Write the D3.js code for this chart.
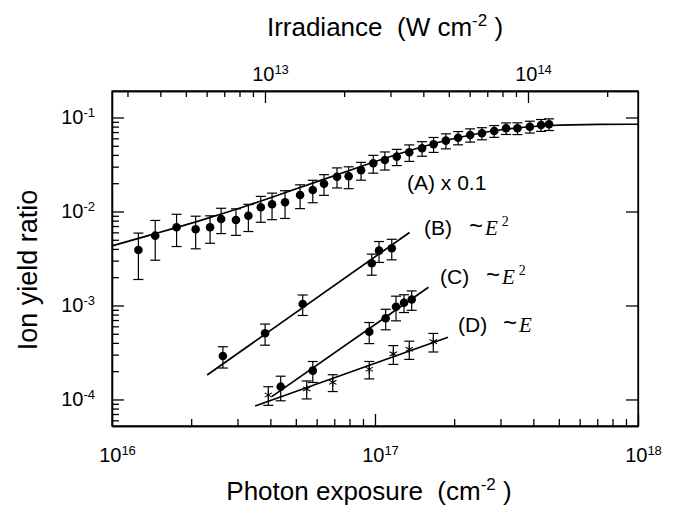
<!DOCTYPE html>
<html lang="en">
<head>
<meta charset="utf-8">
<title>Ion yield ratio vs photon exposure</title>
<script src="https://cdn.jsdelivr.net/npm/d3@7/dist/d3.min.js"></script>
<style>
  body { margin: 0; background: #fff; }
  svg { font-family: "Liberation Sans", Arial, sans-serif; }
  .axis path, .axis line { stroke: #000; stroke-width: 1.3; }
  .axis text { font-size: 20px; fill: #000; }
  .title { font-size: 26px; }
  .tag { font-size: 21px; }
  .law { font-family: "Liberation Serif", "Times New Roman", serif; font-style: italic; font-size: 21px; }
</style>
</head>
<body>
<div id="chart"></div>
<script>

// ---- data ----
// (A) x 0.1
var aExposure = [1.26e16, 1.46e16, 1.76e16, 2.08e16, 2.36e16, 2.60e16, 2.96e16, 3.30e16, 3.68e16, 4.06e16,
                 4.55e16, 5.19e16, 5.80e16, 6.40e16, 7.17e16, 7.94e16, 8.85e16, 9.85e16, 1.09e17, 1.21e17,
                 1.35e17, 1.51e17, 1.67e17, 1.86e17, 2.07e17, 2.30e17, 2.55e17, 2.84e17, 3.15e17, 3.48e17,
                 3.88e17, 4.28e17, 4.59e17];
var aRatio = [3.89e-3, 5.53e-3, 6.79e-3, 6.46e-3, 6.79e-3, 8.32e-3, 8.12e-3, 9.02e-3, 1.108e-2, 1.193e-2,
              1.253e-2, 1.497e-2, 1.694e-2, 1.975e-2, 2.345e-2, 2.368e-2, 2.743e-2, 3.256e-2, 3.53e-2, 3.83e-2,
              4.26e-2, 4.70e-2, 5.19e-2, 5.67e-2, 6.10e-2, 6.52e-2, 6.79e-2, 7.18e-2, 7.68e-2, 7.68e-2,
              7.98e-2, 8.32e-2, 8.47e-2];
var aErr = [2.0e-3, 2.5e-3, 2.55e-3, 2.45e-3, 2.2e-3, 2.5e-3, 2.55e-3, 2.9e-3, 3.4e-3, 3.75e-3,
            4.1e-3, 4.25e-3, 4.55e-3, 4.9e-3, 5.65e-3, 6.2e-3, 5.9e-3, 7.0e-3, 7.7e-3, 7.5e-3,
            8.5e-3, 8.3e-3, 9.4e-3, 1.03e-2, 9.8e-3, 1.05e-2, 1.0e-2, 1.03e-2, 1.08e-2, 1.1e-2,
            1.15e-2, 1.2e-2, 1.2e-2];
// fitted saturation curve for (A)
var aFitExposure = [1e16, 1.394e16, 2.16e16, 3.35e16, 5.19e16, 8.04e16, 1.245e17, 1.928e17, 2.99e17, 4.62e17, 7.17e17, 1e18];
var aFitRatio = [4.3e-3, 5.6e-3, 8.0e-3, 1.18e-2, 1.80e-2, 2.75e-2, 4.14e-2, 5.83e-2, 7.36e-2, 8.22e-2, 8.45e-2, 8.48e-2];

// (B) ~E^2
var bExposure = [2.64e16, 3.82e16, 5.31e16, 9.72e16, 1.036e17, 1.158e17];
var bRatio = [2.90e-4, 5.06e-4, 1.038e-3, 2.81e-3, 3.83e-3, 4.06e-3];
var bErr = [7.4e-5, 1.28e-4, 2.55e-4, 7.1e-4, 9.6e-4, 1.0e-3];
var bFitExposure = [2.30e16, 1.353e17];
var bFitRatio = [1.82e-4, 5.98e-3];

// (C) ~E^2
var cExposure = [4.38e16, 5.80e16, 9.51e16, 1.098e17, 1.202e17, 1.289e17, 1.379e17];
var cRatio = [1.368e-4, 2.025e-4, 5.26e-4, 7.31e-4, 9.71e-4, 1.071e-3, 1.158e-3];
var cErr = [4.0e-5, 5.1e-5, 1.33e-4, 1.8e-4, 2.85e-4, 2.3e-4, 2.7e-4];
var cFitExposure = [4.05e16, 1.597e17];
var cFitRatio = [1.071e-4, 1.562e-3];

// (D) ~E
var dExposure = [3.93e16, 5.50e16, 6.91e16, 9.51e16, 1.174e17, 1.35e17, 1.666e17];
var dRatio = [1.116e-4, 1.293e-4, 1.524e-4, 2.096e-4, 3.05e-4, 3.42e-4, 4.12e-4];
var dErr = [2.5e-5, 2.8e-5, 3.1e-5, 4.4e-5, 6.9e-5, 7.5e-5, 9.2e-5];
var dFitExposure = [3.50e16, 1.895e17];
var dFitRatio = [8.53e-5, 4.59e-4];

// axes
var xDomain = [1e16, 1e18];
var yDomain = [5.22e-5, 0.1914];
var topDomain = [2.62e12, 2.62e14];   // irradiance matching the exposure range
var xMajor = [1e16, 1e17, 1e18];
var yMajor = [1e-4, 1e-3, 1e-2, 1e-1];
var topMajor = [1e13, 1e14];

// ---- layout ----
var width = 677, height = 510;
var pL = 112, pR = 638, pT = 91, pB = 426;

var svg = d3.select("#chart").append("svg")
    .attr("width", width)
    .attr("height", height);

var x = d3.scaleLog().domain(xDomain).range([pL, pR]);
var y = d3.scaleLog().domain(yDomain).range([pB, pT]);
var xt = d3.scaleLog().domain(topDomain).range([pL, pR]);

// minor ticks: 2..9 within each decade of the domain
function minors(scale) {
    var d = scale.domain(), out = [];
    for (var e = Math.floor(Math.log10(d[0])); e <= Math.ceil(Math.log10(d[1])); e++) {
        for (var m = 2; m <= 9; m++) {
            var v = m * Math.pow(10, e);
            if (v > d[0] && v < d[1]) out.push(v);
        }
    }
    return out;
}

function powLabel(sel, exps) {
    sel.selectAll(".tick text").each(function(d, i) {
        var t = d3.select(this).text(null);
        t.append("tspan").text("10");
        t.append("tspan").attr("font-size", 13).attr("dy", "-0.55em").text(exps[i]);
    });
}

// bottom
var gb = svg.append("g").attr("class", "axis").attr("transform", "translate(0," + pB + ")");
gb.call(d3.axisBottom(x).tickValues(minors(x)).tickSizeInner(-7).tickSizeOuter(0).tickFormat(""));
var gb2 = svg.append("g").attr("class", "axis").attr("transform", "translate(0," + pB + ")");
gb2.call(d3.axisBottom(x).tickValues(xMajor).tickSizeInner(-12).tickSizeOuter(0).tickPadding(22));
powLabel(gb2, ["16", "17", "18"]);
gb2.selectAll(".tick text").attr("dx", 5);

// top
var gt = svg.append("g").attr("class", "axis").attr("transform", "translate(0," + pT + ")");
gt.call(d3.axisTop(xt).tickValues(minors(xt)).tickSizeInner(-6).tickSizeOuter(0).tickFormat(""));
var gt2 = svg.append("g").attr("class", "axis").attr("transform", "translate(0," + pT + ")");
gt2.call(d3.axisTop(xt).tickValues(topMajor).tickSizeInner(-12).tickSizeOuter(0).tickPadding(10));
powLabel(gt2, ["13", "14"]);
gt2.selectAll(".tick text").attr("dx", 5);

// left
var gl = svg.append("g").attr("class", "axis").attr("transform", "translate(" + pL + ",0)");
gl.call(d3.axisLeft(y).tickValues(minors(y)).tickSizeInner(-7).tickSizeOuter(0).tickFormat(""));
var gl2 = svg.append("g").attr("class", "axis").attr("transform", "translate(" + pL + ",0)");
gl2.call(d3.axisLeft(y).tickValues(yMajor).tickSizeInner(-12).tickSizeOuter(0).tickPadding(17));
powLabel(gl2, ["-4", "-3", "-2", "-1"]);

// right
var gr = svg.append("g").attr("class", "axis").attr("transform", "translate(" + pR + ",0)");
gr.call(d3.axisRight(y).tickValues(minors(y)).tickSizeInner(-7).tickSizeOuter(0).tickFormat(""));
gr.call(d3.axisRight(y).tickValues(yMajor).tickSizeInner(-12).tickSizeOuter(0).tickFormat(""));

// titles
var t1 = svg.append("text").attr("class", "title").attr("x", 385).attr("y", 36).attr("text-anchor", "middle");
t1.append("tspan").text("Irradiance\u00a0\u00a0(W cm");
t1.append("tspan").attr("font-size", 17).attr("dy", -10).text("-2");
t1.append("tspan").attr("dy", 10).text("\u00a0)");

var t2 = svg.append("text").attr("class", "title").attr("x", 369).attr("y", 500).attr("text-anchor", "middle");
t2.append("tspan").text("Photon exposure\u00a0\u00a0(cm");
t2.append("tspan").attr("font-size", 17).attr("dy", -10).text("-2");
t2.append("tspan").attr("dy", 10).text("\u00a0)");

svg.append("text").attr("class", "title")
    .attr("transform", "translate(37,270) rotate(-90)")
    .attr("text-anchor", "middle")
    .style("font-size", "27px")
    .text("Ion yield ratio");

// ---- marks ----
var plot = svg.append("g");
var line = d3.line().x(function(d) { return x(d[0]); }).y(function(d) { return y(d[1]); });

function fit(xs, ys, curve) {
    var pts = xs.map(function(v, i) { return [v, ys[i]]; });
    plot.append("path")
        .attr("d", line.curve(curve || d3.curveLinear)(pts))
        .attr("fill", "none")
        .attr("stroke", "#000")
        .attr("stroke-width", 1.7);
}

function errorBars(xs, ys, es) {
    var g = plot.append("g").attr("stroke", "#000").attr("stroke-width", 1.2);
    xs.forEach(function(v, i) {
        var cx = x(v), yh = y(ys[i] + es[i]), yl = y(ys[i] - es[i]);
        g.append("line").attr("x1", cx).attr("x2", cx).attr("y1", yh).attr("y2", yl);
        g.append("line").attr("x1", cx - 5).attr("x2", cx + 5).attr("y1", yh).attr("y2", yh);
        g.append("line").attr("x1", cx - 5).attr("x2", cx + 5).attr("y1", yl).attr("y2", yl);
    });
}

function dots(xs, ys) {
    plot.append("g").selectAll("circle")
        .data(xs)
        .enter().append("circle")
        .attr("cx", function(d) { return x(d); })
        .attr("cy", function(d, i) { return y(ys[i]); })
        .attr("r", 4.3)
        .attr("fill", "#000");
}

function stars(xs, ys) {
    var sym = d3.symbol().type(d3.symbolAsterisk || d3.symbolCross).size(50);
    plot.append("g").selectAll("path")
        .data(xs)
        .enter().append("path")
        .attr("transform", function(d, i) { return "translate(" + x(d) + "," + y(ys[i]) + ")"; })
        .attr("d", sym)
        .attr("fill", "none")
        .attr("stroke", "#000")
        .attr("stroke-width", 1.1);
}

fit(aFitExposure, aFitRatio, d3.curveMonotoneX);
errorBars(aExposure, aRatio, aErr);
dots(aExposure, aRatio);

fit(bFitExposure, bFitRatio);
errorBars(bExposure, bRatio, bErr);
dots(bExposure, bRatio);

fit(cFitExposure, cFitRatio);
errorBars(cExposure, cRatio, cErr);
dots(cExposure, cRatio);

fit(dFitExposure, dFitRatio);
errorBars(dExposure, dRatio, dErr);
stars(dExposure, dRatio);

// frame
svg.append("rect")
    .attr("x", pL).attr("y", pT)
    .attr("width", pR - pL).attr("height", pB - pT)
    .attr("fill", "none").attr("stroke", "#000").attr("stroke-width", 1.3);

// ---- series tags ----
svg.append("text").attr("class", "tag").attr("x", 407).attr("y", 190).text("(A) x 0.1");

function lawTag(tx, ty, name, lx, power) {
    svg.append("text").attr("class", "tag").attr("x", tx).attr("y", ty).text(name);
    svg.append("text").attr("class", "tag").attr("x", lx).attr("y", ty - 1).style("font-size", "24px").text("~");
    var t = svg.append("text").attr("class", "law").attr("x", lx + 16).attr("y", ty).text("E");
    if (power) {
        t.append("tspan").attr("font-style", "normal").attr("font-size", 14).attr("dx", 4).attr("dy", -9).text(power);
    }
}
lawTag(424, 235, "(B)", 469, "2");
lawTag(440, 284, "(C)", 486, "2");
lawTag(458, 332, "(D)", 503, null);

</script>
</body>
</html>
